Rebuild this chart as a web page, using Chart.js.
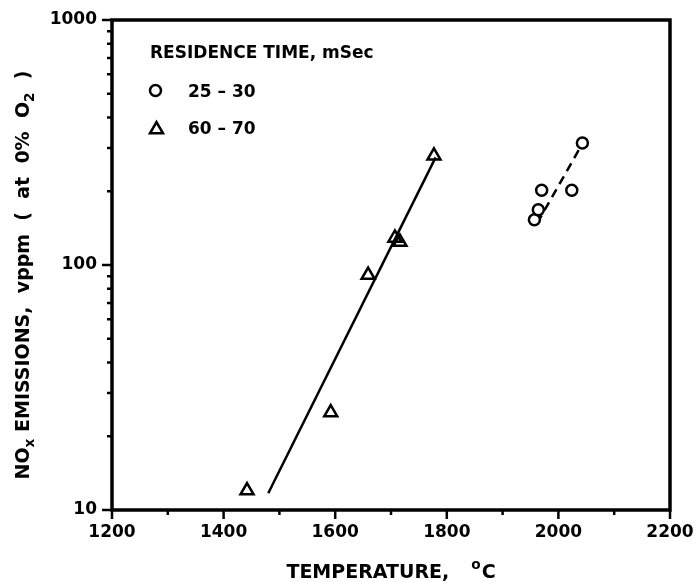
<!DOCTYPE html>
<html>
<head>
<meta charset="utf-8">
<script src="https://cdn.jsdelivr.net/npm/chart.js@4.4.1/dist/chart.umd.min.js"></script>
<style>
  body { margin: 0; background: #fff; }
  #wrap { width: 697px; height: 582px; }
</style>
</head>
<body>
<div id="wrap"><canvas id="noxChart" width="697" height="582"></canvas></div>
<script>
// Residence time 25 - 30 ms (circles)
const shortTemp = [1957, 1964, 1970, 2024, 2043];
const shortNOx = [153, 168, 202, 202, 315];
// Residence time 60 - 70 ms (triangles)
const longTemp = [1442, 1592, 1659, 1707, 1716, 1777];
const longNOx = [12, 25, 91, 129, 124, 279];
// Trend lines through each group
const longFitTemp = [1480, 1780];
const longFitNOx = [11.7, 275];
const shortFitTemp = [1962, 2043];
const shortFitNOx = [148, 313];

const tempTicks = [1200, 1400, 1600, 1800, 2000, 2200];
const tempMinorTicks = [1300, 1500, 1700, 1900, 2100];
const noxTicks = [10, 100, 1000];
const noxMinorTicks = [20, 30, 40, 50, 60, 70, 80, 90, 200, 300, 400, 500, 600, 700, 800, 900];

const legendTitle = 'RESIDENCE TIME, mSec';
const legendLabels = ['25 – 30', '60 – 70'];

const FONT = "'DejaVu Sans', sans-serif";

function pts(xs, ys) { return xs.map((x, i) => ({ x: x, y: ys[i] })); }

function triangle(ctx, cx, cy, r) {
    let rad = 0;
    ctx.beginPath();
    for (let i = 0; i < 3; i++) {
        const px = cx + Math.sin(rad) * r, py = cy - Math.cos(rad) * r;
        if (i === 0) ctx.moveTo(px, py); else ctx.lineTo(px, py);
        rad += 2 * Math.PI / 3;
    }
    ctx.closePath();
}

// text with sub/superscript pieces, returns total width
function richText(ctx, parts, x, y, size, measureOnly) {
    let cx = x;
    parts.forEach(p => {
        const s = p.sub || p.sup ? size * 0.72 : size;
        ctx.font = 'bold ' + s + 'px ' + FONT;
        const dy = p.sub ? size * 0.28 : (p.sup ? -size * 0.45 : 0);
        if (!measureOnly) ctx.fillText(p.t, cx, y + dy);
        cx += ctx.measureText(p.t).width + (p.gap || 0);
    });
    return cx - x;
}

const framePlugin = {
    id: 'frame',
    afterDraw(chart) {
        const { ctx, chartArea: a, scales: { x, y } } = chart;
        ctx.save();
        ctx.strokeStyle = '#000';
        ctx.fillStyle = '#000';

        // box
        ctx.lineWidth = 3.5;
        ctx.strokeRect(a.left, a.top, a.right - a.left, a.bottom - a.top);

        // tick marks, outside the box
        ctx.lineWidth = 2.5;
        ctx.beginPath();
        tempTicks.forEach(v => { const p = x.getPixelForValue(v); ctx.moveTo(p, a.bottom); ctx.lineTo(p, a.bottom + 9); });
        tempMinorTicks.forEach(v => { const p = x.getPixelForValue(v); ctx.moveTo(p, a.bottom); ctx.lineTo(p, a.bottom + 5); });
        noxTicks.forEach(v => { const p = y.getPixelForValue(v); ctx.moveTo(a.left, p); ctx.lineTo(a.left - 10, p); });
        noxMinorTicks.forEach(v => { const p = y.getPixelForValue(v); ctx.moveTo(a.left, p); ctx.lineTo(a.left - 5, p); });
        ctx.stroke();

        // x axis title
        ctx.textBaseline = 'alphabetic';
        ctx.textAlign = 'left';
        const xParts = [{ t: 'TEMPERATURE,', gap: 22 }, { t: 'o', sup: true, gap: 1 }, { t: 'C' }];
        const xw = richText(ctx, xParts, 0, 0, 19, true);
        richText(ctx, xParts, (a.left + a.right) / 2 - xw / 2, 578, 19);

        // y axis title, rotated
        const yParts = [{ t: 'NO' }, { t: 'x', sub: true }, { t: ' EMISSIONS,  vppm  (  at  0%  O' }, { t: '2', sub: true }, { t: '  )' }];
        ctx.translate(29, 275);
        ctx.rotate(-Math.PI / 2);
        const yw = richText(ctx, yParts, 0, 0, 19, true);
        richText(ctx, yParts, -yw / 2, 0, 19);
        ctx.setTransform(1, 0, 0, 1, 0, 0);

        // legend
        ctx.font = 'bold 17px ' + FONT;
        ctx.fillText(legendTitle, 150, 58);
        ctx.fillText(legendLabels[0], 188, 97);
        ctx.fillText(legendLabels[1], 188, 134);
        ctx.lineWidth = 2.5;
        ctx.beginPath();
        ctx.arc(155.5, 90.5, 5.5, 0, Math.PI * 2);
        ctx.stroke();
        triangle(ctx, 156.5, 129.5, 7.5);
        ctx.stroke();
        ctx.restore();
    }
};

new Chart(document.getElementById('noxChart'), {
    type: 'scatter',
    data: {
        datasets: [
            {
                label: '25 - 30',
                data: pts(shortTemp, shortNOx),
                pointStyle: 'circle',
                pointRadius: 5.5,
                borderColor: '#000',
                backgroundColor: '#fff',
                borderWidth: 2.5,
                order: 1
            },
            {
                label: '60 - 70',
                data: pts(longTemp, longNOx),
                pointStyle: 'triangle',
                pointRadius: 7.5,
                borderColor: '#000',
                backgroundColor: 'rgba(0,0,0,0)',
                borderWidth: 2.5,
                order: 1
            },
            {
                label: 'fit 60 - 70',
                data: pts(longFitTemp, longFitNOx),
                showLine: true,
                pointRadius: 0,
                borderColor: '#000',
                borderWidth: 2.5,
                order: 2
            },
            {
                label: 'fit 25 - 30',
                data: pts(shortFitTemp, shortFitNOx),
                showLine: true,
                pointRadius: 0,
                borderColor: '#000',
                borderWidth: 2.5,
                borderDash: [9, 6],
                order: 2
            }
        ]
    },
    options: {
        responsive: false,
        animation: false,
        devicePixelRatio: 1,
        layout: { padding: { top: 20, right: 27, left: 0, bottom: 0 } },
        plugins: { legend: { display: false }, tooltip: { enabled: false } },
        scales: {
            x: {
                type: 'linear',
                min: 1200,
                max: 2200,
                afterBuildTicks: s => { s.ticks = tempTicks.map(v => ({ value: v })); },
                afterFit: s => { s.height = 72; s.paddingLeft = 0; s.paddingRight = 0; },
                grid: { display: false, drawTicks: false },
                border: { display: false },
                ticks: {
                    color: '#000',
                    padding: 12,
                    maxRotation: 0,
                    font: { family: FONT, size: 17, weight: 'bold' },
                    callback: v => String(v)
                }
            },
            y: {
                type: 'logarithmic',
                min: 10,
                max: 1000,
                afterBuildTicks: s => { s.ticks = noxTicks.map(v => ({ value: v })); },
                afterFit: s => { s.width = 112; s.paddingTop = 0; s.paddingBottom = 0; },
                grid: { display: false, drawTicks: false },
                border: { display: false },
                ticks: {
                    color: '#000',
                    padding: 15,
                    font: { family: FONT, size: 17, weight: 'bold' },
                    callback: v => String(v)
                }
            }
        }
    },
    plugins: [framePlugin]
});
</script>
</body>
</html>
